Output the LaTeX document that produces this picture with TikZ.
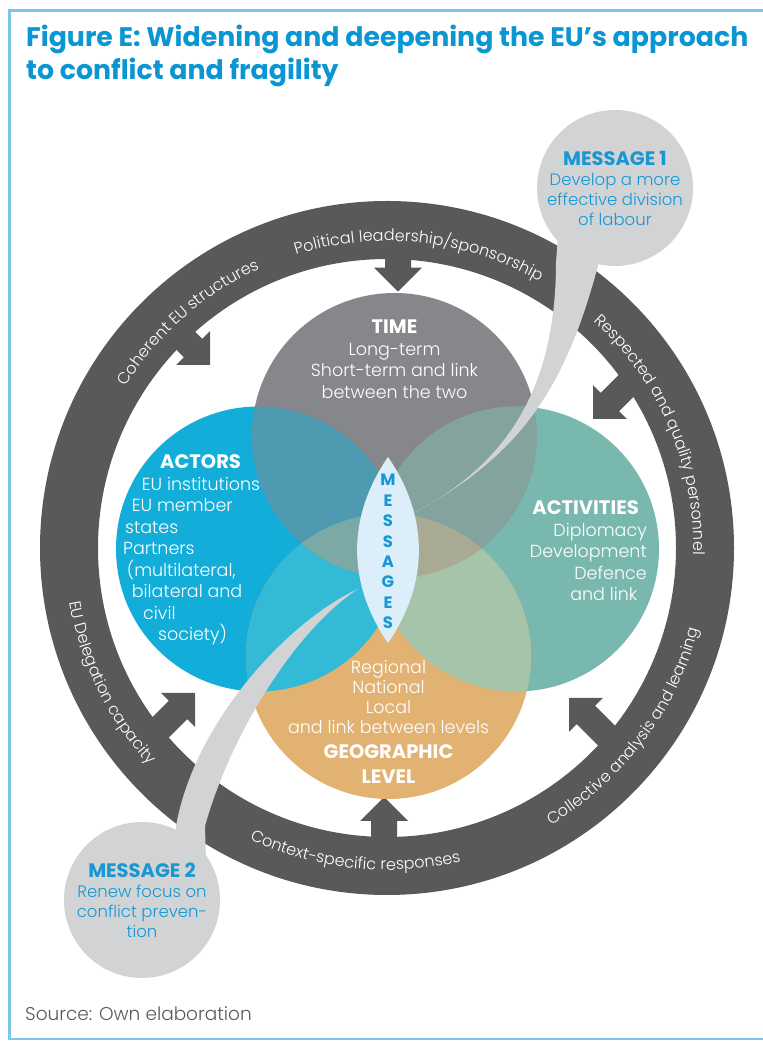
\documentclass[tikz,border=0pt]{standalone}
\usepackage{fontspec}
\setmainfont{Poppins}
\newfontfamily\lightfont{Poppins Light}
\usetikzlibrary{decorations.text}
\definecolor{ringgray}{HTML}{58595B}
\definecolor{bubblegray}{HTML}{D1D3D4}
\definecolor{timegray}{HTML}{86878A}
\definecolor{actorblue}{HTML}{12ADD9}
\definecolor{activteal}{HTML}{79B8AE}
\definecolor{geoorange}{HTML}{E2B273}
\definecolor{mixAT}{HTML}{4E9AB0}
\definecolor{mixTV}{HTML}{84A39E}
\definecolor{mixAG}{HTML}{33BAD6}
\definecolor{mixVG}{HTML}{A6C4A9}
\definecolor{mixATG}{HTML}{7BA9A6}
\definecolor{mixTVG}{HTML}{A9AA93}
\definecolor{lensblue}{HTML}{DCEEF9}
\definecolor{msgblue}{HTML}{1798D5}
\definecolor{titleblue}{HTML}{0A96D3}
\definecolor{framblue}{HTML}{7DC6E6}
\newcommand\hd[1]{{\rmfamily\bfseries\fontsize{19.5}{19.5}\selectfont #1}}
\tikzset{
	ringtext/.style={decorate,decoration={text along path,text align=center,text color=white,text={|\lightfont\fontsize{16}{16}\selectfont|#1}}},
	circtext/.style={text=white,inner sep=0,font=\lightfont\fontsize{17.5}{21.5}\selectfont},
	bubble/.style={circle,fill=bubblegray,minimum size=156,inner sep=0,align=center,text=msgblue,font=\lightfont\fontsize{16.5}{20}\selectfont},
	msgletter/.style={text=msgblue,inner sep=0,font=\bfseries\fontsize{16.5}{16.5}\selectfont},
	titletext/.style={text=titleblue,inner sep=0,anchor=base west,font=\bfseries\fontsize{26.8}{33}\selectfont},
	srctext/.style={text=ringgray,inner sep=0,anchor=base west,font=\lightfont\fontsize{18.5}{18.5}\selectfont},
	ringarrow/.pic={\fill[ringgray] (0,0) -- (-24,24) -- (-24,13) -- (-75,13) -- (-75,-13) -- (-24,-13) -- (-24,-24) -- cycle;}
}
\begin{document}
\begin{tikzpicture}[x = 1pt, y = 1pt]
		\useasboundingbox (0, 0) rectangle (763, 1042);
		\coordinate (0) at (387, 494);
		\coordinate (1) at (258.5, 493);
		\coordinate (2) at (394.5, 606.5);
		\coordinate (3) at (516.5, 493);
		\coordinate (4) at (388.5, 385.5);
		\coordinate (5) at (388, 585);
		\coordinate (6) at (388, 399);
		\coordinate (7) at (398, 750.3);
		\coordinate (8) at (210, 677);
		\coordinate (9) at (593, 623);
		\coordinate (10) at (195, 349);
		\coordinate (11) at (569, 344);
		\coordinate (12) at (384, 245);
		
		\draw [framblue, line width = 2.5] (775, 1031.3) -- (9.7, 1031.3) -- (9.7, 3.2) -- (775, 3.2);
		
		\fill [ringgray, even odd rule] (0) circle (347) circle (289);
		\pic [rotate = -90] at (7) {ringarrow};
		\pic [rotate = -45] at (8) {ringarrow};
		\pic [rotate = -135] at (9) {ringarrow};
		\pic [rotate = 45] at (10) {ringarrow};
		\pic [rotate = 135] at (11) {ringarrow};
		\pic [rotate = 90] at (12) {ringarrow};
		
		\fill [actorblue] (1) circle (142.5);
		\fill [timegray] (2) circle (142.5);
		\fill [activteal] (3) circle (142.5);
		\fill [geoorange] (4) circle (142.5);
		\begin{scope}
			\clip (1) circle (142.5);
			\fill [mixAT] (2) circle (142.5);
			\fill [mixAG] (4) circle (142.5);
		\end{scope}
		\begin{scope}
			\clip (3) circle (142.5);
			\fill [mixTV] (2) circle (142.5);
			\fill [mixVG] (4) circle (142.5);
		\end{scope}
		\begin{scope}
			\clip (1) circle (142.5);
			\clip (2) circle (142.5);
			\fill [mixATG] (4) circle (142.5);
		\end{scope}
		\begin{scope}
			\clip (3) circle (142.5);
			\clip (2) circle (142.5);
			\fill [mixTVG] (4) circle (142.5);
		\end{scope}
		
		\path [ringtext = {Political leadership/sponsorship}] ([shift = {(123.75:307)}]0) arc [start angle = 123.75, end angle = 43.75, radius = 307];
		\path [ringtext = {Coherent EU structures}] ([shift = {(166.4:307)}]0) arc [start angle = 166.4, end angle = 96.4, radius = 307];
		\path [ringtext = {Respected and quality personnel}] ([shift = {(58.2:307)}]0) arc [start angle = 58.2, end angle = -11.8, radius = 307];
		\path [ringtext = {Collective analysis and learning}] ([shift = {(-72:322)}]0) arc [start angle = -72, end angle = -2, radius = 322];
		\path [ringtext = {Context-specific responses}] ([shift = {(-131:322)}]0) arc [start angle = -131, end angle = -61, radius = 322];
		\path [ringtext = {EU Delegation capacity}] ([shift = {(171:322)}]0) arc [start angle = 171, end angle = 241, radius = 322];
		
		\fill [bubblegray] (414, 529) .. controls (510, 580) and (556, 657) .. (556, 780) -- (560, 830) -- (602, 830) -- (600, 784) .. controls (566, 652) and (520, 587) .. (414, 529) -- cycle;
		\fill [bubblegray] (358, 453) .. controls (290, 422) and (195, 322) .. (176, 216) -- (176, 180) -- (206, 180) -- (205, 216) .. controls (232, 312) and (298, 414) .. (358, 453) -- cycle;
		\fill [lensblue] (5) to [out = -124.6, in = 124.6] (6) to [out = 55.4, in = -55.4] (5);
		
		\node [titletext] (13) at (26, 995) {Figure E: Widening and deepening the EU’s approach};
		\node [titletext] (14) at (26, 962) {to conflict and fragility};
		\node [circtext, align = center, anchor = base] (15) at (394.5, 643.5) {\hd{TIME}\\Long-term\\Short-term and link\\between the two};
		\node [circtext, align = left, anchor = base west] (16) at (123, 401) {\hspace*{37pt}\hd{ACTORS}\\\hspace*{18.7pt}EU institutions\\\hspace*{8.7pt}EU member\\\hspace*{2pt}states\\Partners\\\hspace*{3.7pt}(multilateral,\\\hspace*{8.7pt}bilateral and\\\hspace*{20pt}civil\\\hspace*{35pt}society)};
		\node [circtext, align = right, anchor = base east] (17) at (647, 441) {\hd{ACTIVITIES}\hspace*{8pt}\\Diplomacy\\Development\\Defence\hspace*{2pt}\\and link\hspace*{9.5pt}};
		\node [circtext, align = center, anchor = base, font = \lightfont\fontsize{17.5}{20}\selectfont] (18) at (388.5, 258.5) {Regional\\National\\Local\\and link between levels\\[4.5pt]\hd{GEOGRAPHIC}\\[5pt]\hd{LEVEL}};
		\node [bubble] (19) at (615, 854) {\hd{MESSAGE 1}\\Develop a more\\effective division\\of labour};
		\node [bubble] (20) at (142, 142) {\hd{MESSAGE 2}\\Renew focus on\\conflict preven-\\tion};
		
		\node [msgletter] (21) at (388, 562) {M};
		\node [msgletter] (22) at (388, 541.6) {E};
		\node [msgletter] (23) at (388, 521.2) {S};
		\node [msgletter] (24) at (388, 500.8) {S};
		\node [msgletter] (25) at (388, 480.4) {A};
		\node [msgletter] (26) at (388, 460) {G};
		\node [msgletter] (27) at (388, 439.6) {E};
		\node [msgletter] (28) at (388, 419.2) {S};
		
		\node [srctext] (29) at (25, 21) {Source: Own elaboration};
	\end{tikzpicture}
\end{document}
